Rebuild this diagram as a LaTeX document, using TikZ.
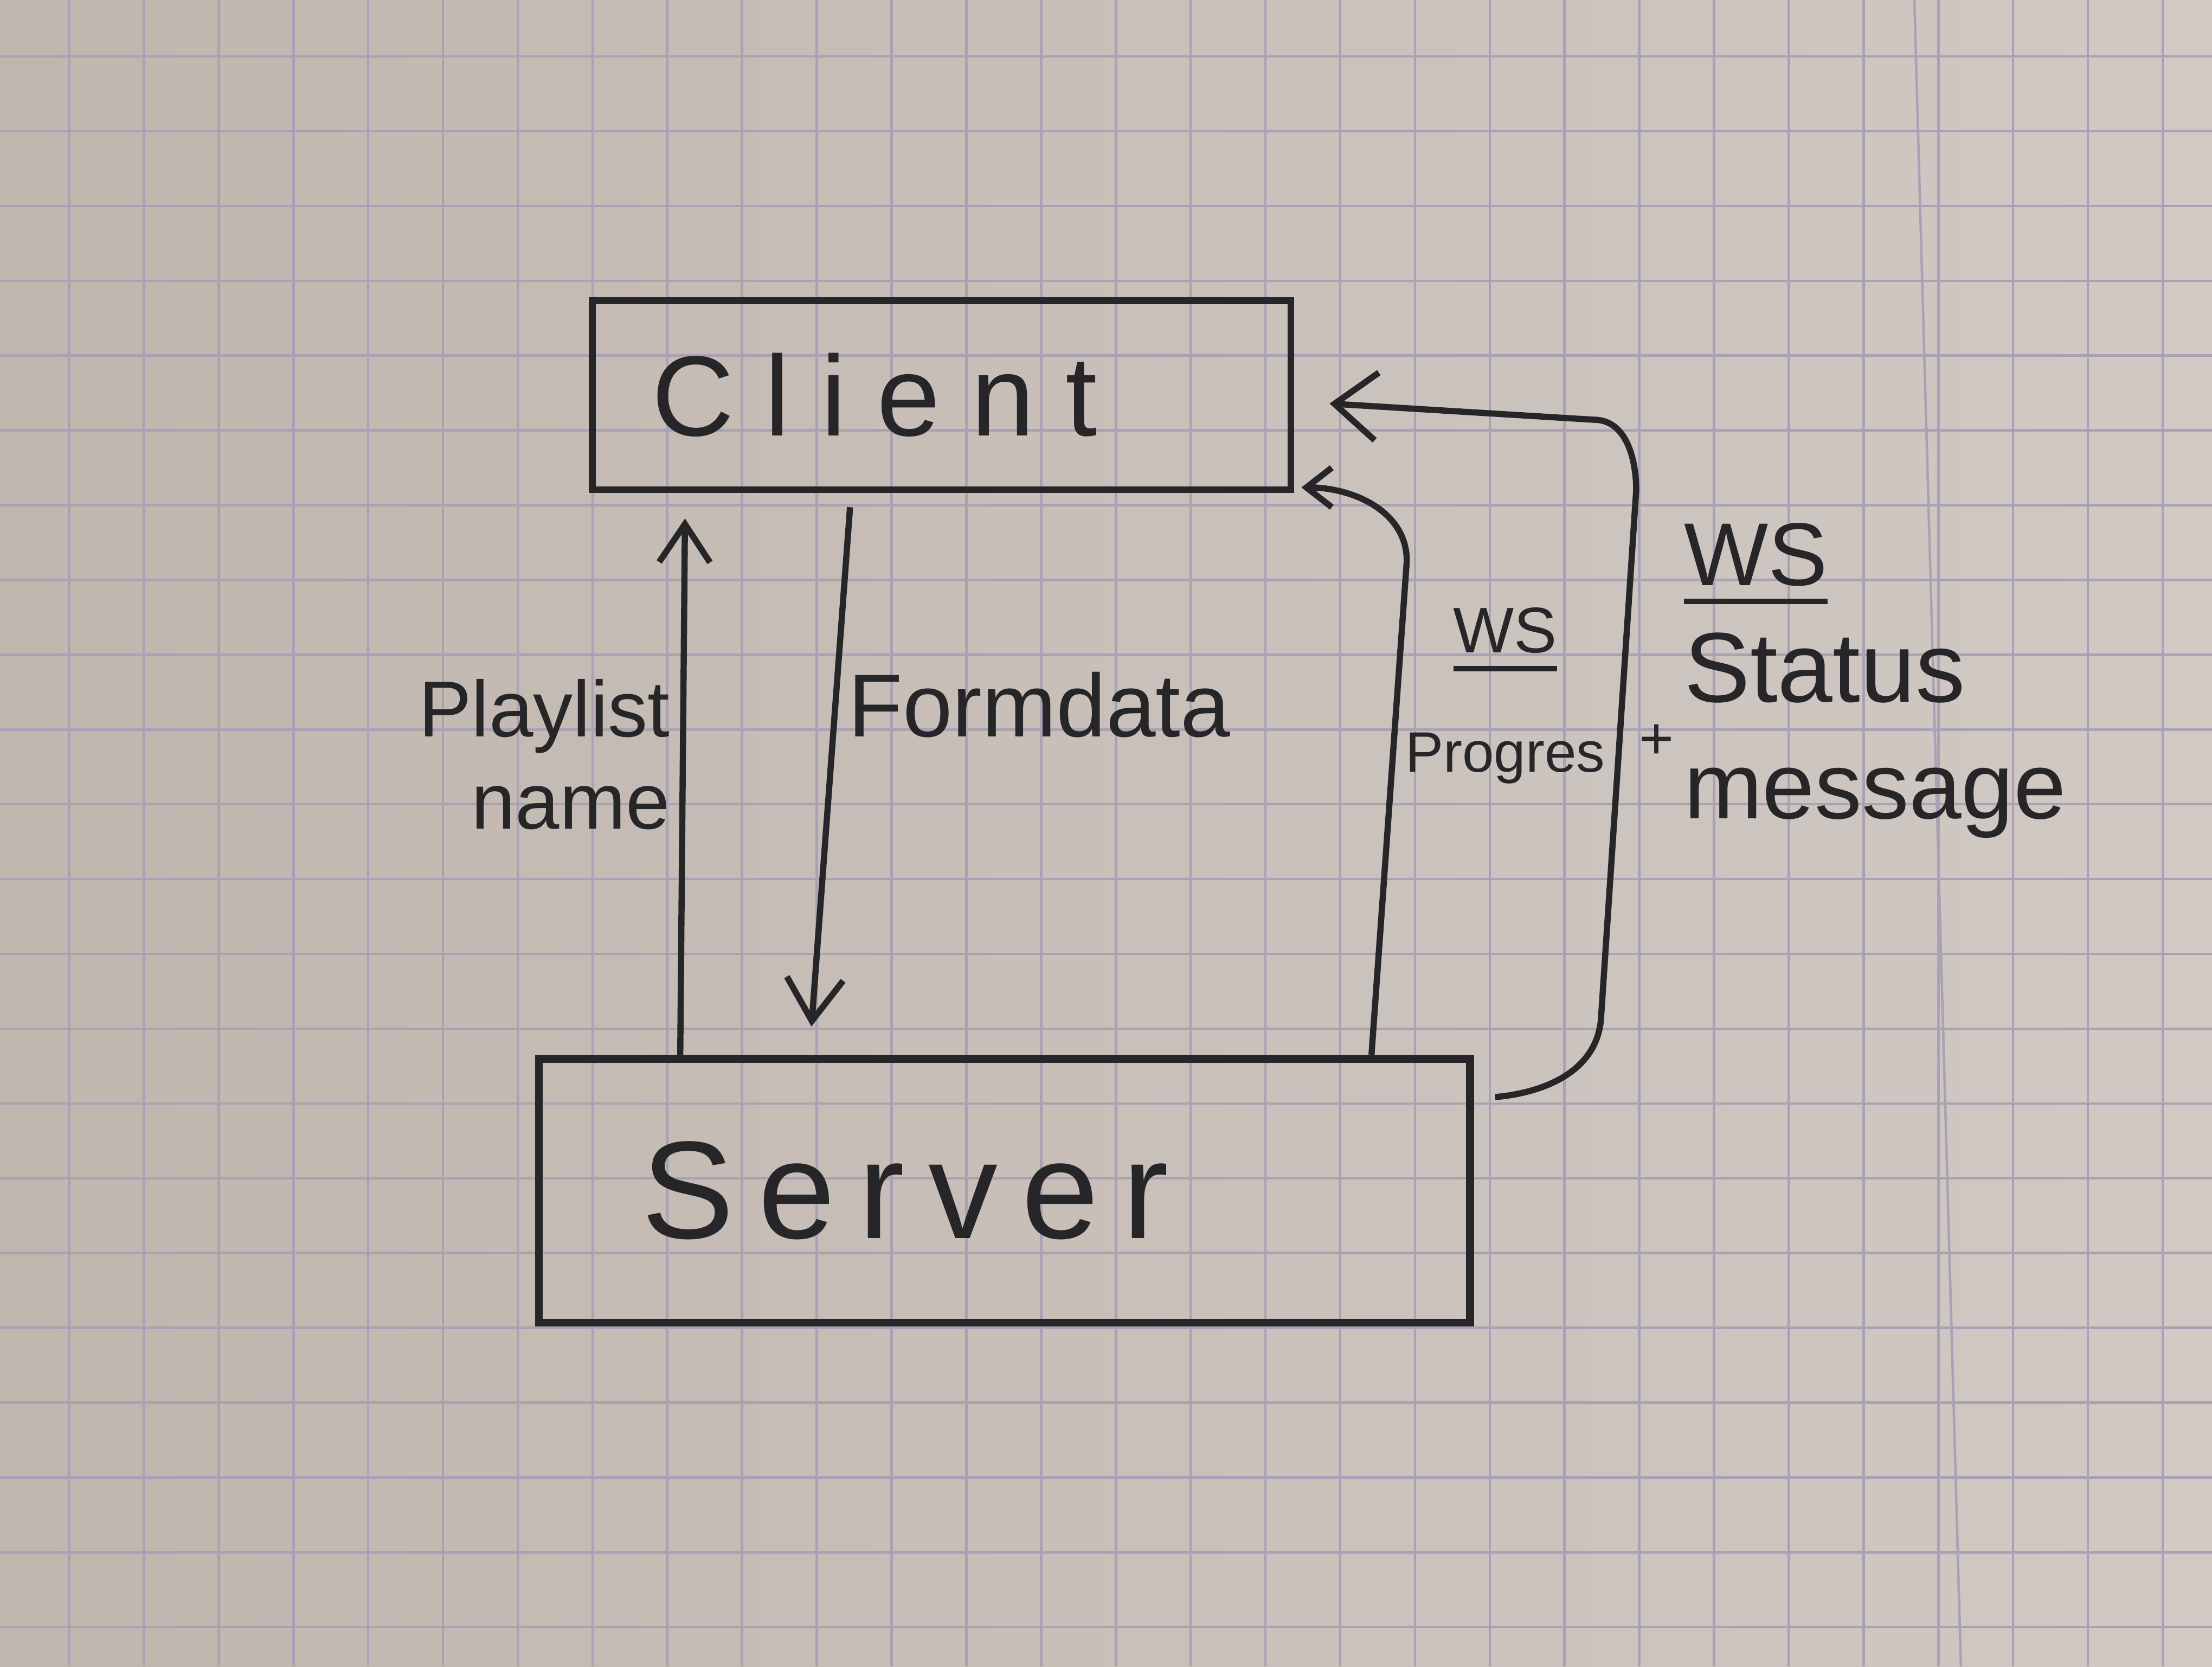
\documentclass[tikz,border=0pt]{standalone}
\usepackage{fontspec}
\setmainfont{Liberation Sans}
\usetikzlibrary{arrows.meta,positioning}
\definecolor{ink}{RGB}{38,38,40}
\definecolor{paperl}{RGB}{192,182,174}
\definecolor{paperr}{RGB}{208,201,196}
\definecolor{gridc}{RGB}{170,162,180}
\newcommand{\wsline}[1]{\vtop{\hbox{#1}\kern2.5pt\hrule height 1.1pt}}

\begin{document}
\begin{tikzpicture}[
  box/.style={draw=ink, line width=1.4pt, align=left, text=ink},
  lbl/.style={text=ink, inner sep=2pt},
  arr/.style={-{Straight Barb[length=2.7mm,width=3.6mm]}, line width=1.25pt, draw=ink},
  gridline/.style={draw=gridc, line width=0.5pt}
]
  \useasboundingbox (0,0) rectangle (15.68,-11.81);
  \shade[left color=paperl, right color=paperr] (0,0) rectangle (15.68,-11.81);
  \draw[gridline, xshift=0.49cm, yshift=-0.40cm] (-0.49,0.40) grid[step=0.53] (15.19,-11.41);
  \draw[gridline] (13.57,0) -- (13.90,-11.81);

  \node[box, text width=4.11cm, inner xsep=0.42cm, minimum height=1.34cm,
    font=\fontsize{23}{27}\selectfont\addfontfeature{LetterSpace=27}] (client) at (6.675,-2.80) {Client};
  \node[box, line width=1.6pt, text width=5.14cm, inner xsep=0.73cm, minimum height=1.87cm,
    font=\fontsize{28}{32}\selectfont\addfontfeature{LetterSpace=17},
    below=3.98cm of client, xshift=0.445cm] (server) {Server};

  \draw[arr] ([xshift=1.03cm]server.north west) -- node[lbl, left, pos=.56, align=right,
    font=\fontsize{16}{18.5}\selectfont] (plname) {Playlist\\name} ([xshift=0.68cm,yshift=-1.8mm]client.south west);
  \draw[arr, -{Straight Barb[length=3mm,width=4mm]}] ([xshift=1.85cm,yshift=-1mm]client.south west) -- node[lbl, right, pos=.38,
    font=\fontsize{18}{21}\selectfont] (formdata) {Formdata} ([xshift=1.96cm,yshift=2mm]server.north west);
  \draw[arr, -{Straight Barb[length=1.8mm,width=2.8mm]}] ([xshift=5.93cm]server.north west)
    -- ++(0.25,3.5) to[out=90,in=0] ([xshift=0.5mm,yshift=0.4mm]client.south east);
  \draw[arr, -{Straight Barb[length=3mm,width=4.8mm]}] ([xshift=1.5mm,yshift=-3mm]server.north east)
    to[out=5,in=-95] ++(0.75,0.55) -- ++(0.25,3.75) to[out=90,in=0] ++(-0.3,0.5)
    -- ([xshift=2.5mm,yshift=-0.6mm]client.east);

  \node[lbl, align=center, font=\fontsize{11.5}{24}\selectfont] (wsprog) at (10.67,-4.93)
    {{\fontsize{13}{24}\selectfont\wsline{WS}}\\Progres};
  \node[lbl, align=left, anchor=north west, inner sep=0pt, font=\fontsize{19}{23.5}\selectfont] (wsstat) at (11.93,-3.70)
    {{\fontsize{18}{23.5}\selectfont\wsline{WS}}\\{\fontsize{20}{23.5}\selectfont Status}\\\llap{\raisebox{12pt}{\fontsize{12}{14}\selectfont +}\hspace{2pt}}message};
\end{tikzpicture}
\end{document}
